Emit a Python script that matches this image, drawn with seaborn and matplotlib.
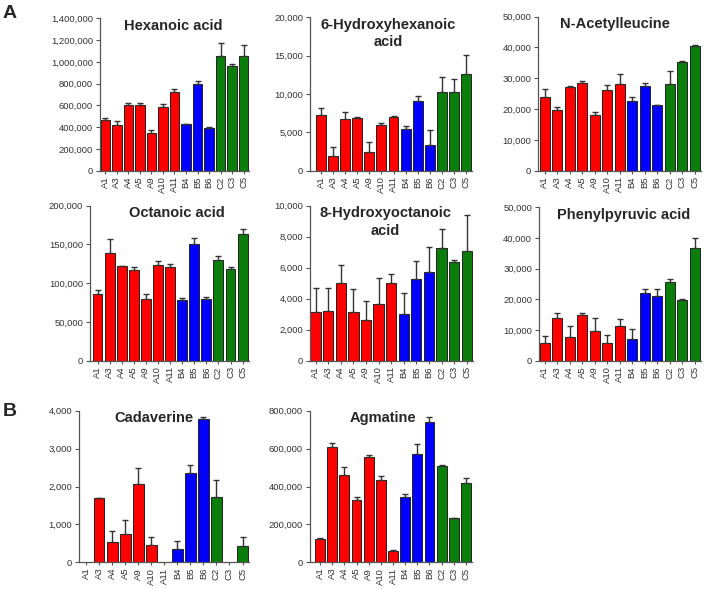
import numpy as np
import pandas as pd
import matplotlib
matplotlib.use("Agg")
import matplotlib.pyplot as plt
import seaborn as sns

# samples and their groups
samples = ["A1", "A3", "A4", "A5", "A9", "A10", "A11", "B4", "B5", "B6", "C2", "C3", "C5"]
groups = ["A"] * 7 + ["B"] * 3 + ["C"] * 3
palette = {"A": "#FF0000", "B": "#0000FF", "C": "#0B7D0B"}

# mean values and upper error
hexanoic = [470000, 420000, 603000, 603000, 343000, 588000, 726000, 426000, 793000, 389000, 1053000, 965000, 1052000]
hexanoic_err = [10000, 40000, 16000, 16000, 31000, 24000, 21000, 3000, 31000, 15000, 117000, 12000, 107000]

hydroxyhexanoic = [7300, 1950, 6700, 6900, 2400, 6000, 7050, 5480, 9090, 3300, 10300, 10300, 12650]
hydroxyhexanoic_err = [830, 1130, 950, 50, 1390, 220, 130, 390, 650, 1950, 1900, 1650, 2400]

acetylleucine = [24000, 19700, 27200, 28600, 18100, 26300, 28100, 22600, 27400, 21300, 28000, 35400, 40600]
acetylleucine_err = [2400, 1100, 150, 650, 1100, 1400, 3250, 1400, 1000, 100, 4300, 100, 200]

octanoic = [86500, 139400, 122200, 117000, 79100, 123400, 121300, 77800, 150800, 79100, 129900, 117900, 164000]
octanoic_err = [4300, 17200, 500, 3400, 7300, 5200, 3400, 3400, 7000, 2600, 5000, 3400, 5500]

hydroxyoctanoic = [3160, 3230, 4990, 3140, 2600, 3660, 4990, 2990, 5270, 5700, 7230, 6390, 7050]
hydroxyoctanoic_err = [1510, 1480, 1200, 1460, 1250, 1680, 580, 1380, 1160, 1610, 1250, 90, 2350]

phenylpyruvic = [5650, 13900, 7830, 14890, 9670, 5870, 11400, 7170, 22070, 21090, 25650, 19780, 36630]
phenylpyruvic_err = [2500, 1530, 3370, 540, 4230, 2610, 2080, 3030, 1410, 2170, 980, 440, 3370]

cadaverine = [0, 1690, 545, 747, 2057, 448, 0, 360, 2365, 3780, 1714, 0, 432]
cadaverine_err = [0, 10, 273, 369, 440, 220, 0, 203, 202, 44, 457, 0, 230]

agmatine = [123000, 607000, 459000, 329000, 557000, 436000, 62000, 346000, 571000, 742000, 510000, 232000, 417000]
agmatine_err = [4000, 24000, 44000, 17000, 9000, 19000, 3000, 14000, 51000, 23000, 2000, 2000, 26000]

# panel: title, values, errors, y max, y step, layout in pixels
# (spine x, A1 centre x, C5 centre x, top y, zero y, title x fraction)
panels = [
    ("Hexanoic acid", hexanoic, hexanoic_err, 1400000, 200000, (100, 105.3, 243.6, 18.3, 170.7, 0.49)),
    ("6-Hydroxyhexanoic\nacid", hydroxyhexanoic, hydroxyhexanoic_err, 20000, 5000, (310, 321, 466, 17.3, 170.7, 0.48)),
    ("N-Acetylleucine", acetylleucine, acetylleucine_err, 50000, 10000, (538.3, 544.7, 694.7, 16.7, 170.7, 0.47)),
    ("Octanoic acid", octanoic, octanoic_err, 200000, 50000, (90, 97.5, 242.6, 205.7, 360.7, 0.55)),
    ("8-Hydroxyoctanoic\nacid", hydroxyoctanoic, hydroxyoctanoic_err, 10000, 2000, (310, 315.6, 466.7, 205.5, 360.7, 0.46)),
    ("Phenylpyruvic acid", phenylpyruvic, phenylpyruvic_err, 50000, 10000, (539, 544.7, 694.7, 207.3, 360.7, 0.52)),
    ("Cadaverine", cadaverine, cadaverine_err, 4000, 1000, (79, 86.1, 242.5, 410.7, 562.3, 0.44)),
    ("Agmatine", agmatine, agmatine_err, 800000, 200000, (310, 320, 466, 410.7, 562.3, 0.45)),
]

W, H = 706, 589

sns.set_style("ticks")
plt.rcParams["font.family"] = ["Liberation Sans", "DejaVu Sans"]

fig = plt.figure(figsize=(W / 100, H / 100), dpi=100)

for title, vals, errs, ymax, ystep, (spine, a1, c5, top, zero, tx) in panels:
    slot = (c5 - a1) / 12
    right = c5 + slot / 2
    ax = fig.add_axes([spine / W, 1 - zero / H, (right - spine) / W, (zero - top) / H])

    df = pd.DataFrame({"sample": samples, "group": groups, "value": vals})
    sns.barplot(data=df, x="sample", y="value", hue="group", palette=palette,
                dodge=False, width=0.82, saturation=1, edgecolor="#222222",
                linewidth=0.7, legend=False, ax=ax)

    err = np.array(errs, dtype=float)
    v = np.array(vals, dtype=float)
    pos = np.arange(len(samples))
    m = err > 0
    ax.errorbar(pos[m], v[m], yerr=[np.zeros(m.sum()), err[m]], fmt="none",
                ecolor="#333333", elinewidth=1.0, capsize=2.2, capthick=1.0)

    ax.set_xlim(-(a1 - spine) / slot, 12.5)
    ax.set_ylim(0, ymax)
    ax.set_yticks(np.arange(0, ymax + ystep / 2, ystep))
    ax.yaxis.set_major_formatter(matplotlib.ticker.FuncFormatter(lambda x, p: f"{int(x):,}"))
    ax.set_xlabel("")
    ax.set_ylabel("")
    ax.tick_params(axis="y", labelsize=6.8, length=3, width=0.8, colors="#555555", labelcolor="#333333", pad=2)
    ax.tick_params(axis="x", labelsize=6.8, length=2, width=0.8, colors="#555555", labelcolor="#333333",
                   rotation=90, pad=2)
    for s in ["top", "right"]:
        ax.spines[s].set_visible(False)
    for s in ["left", "bottom"]:
        ax.spines[s].set_color("#555555")
        ax.spines[s].set_linewidth(0.9)

    ax.text(tx, 0.995, title, transform=ax.transAxes, ha="center", va="top",
            fontsize=10.5, fontweight="bold", linespacing=1.3)

fig.text(3 / W, 1 - 14 / H, "A", fontsize=14, fontweight="bold", va="center", ha="left")
fig.text(3 / W, 1 - 411 / H, "B", fontsize=14, fontweight="bold", va="center", ha="left")

fig.savefig("out.png", dpi=100)
